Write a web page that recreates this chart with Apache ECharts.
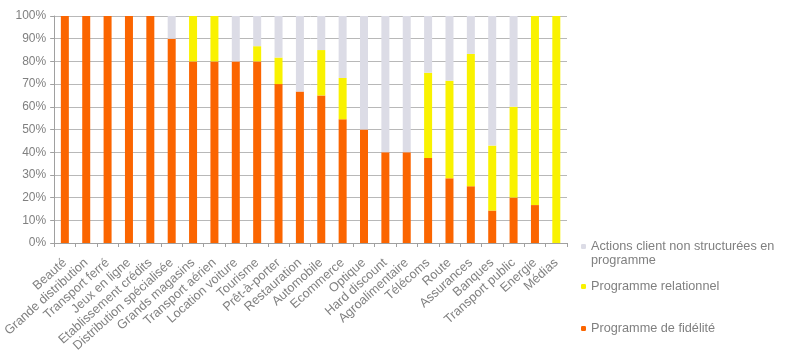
<!DOCTYPE html>
<html><head><meta charset="utf-8">
<script src="https://cdn.jsdelivr.net/npm/echarts@6/dist/echarts.min.js"></script>
<style>html,body{margin:0;padding:0;background:#fff}#c{width:800px;height:364px}</style>
</head><body><div id="c"></div>
<script>
const categories = ["Beauté","Grande distribution","Transport ferré","Jeux en ligne","Etablissement crédits","Distribution spécialisée","Grands magasins","Transport aérien","Location voiture","Tourisme","Prêt-à-porter","Restauration","Automobile","Ecommerce","Optique","Hard discount","Agroalimentaire","Télécoms","Route","Assurances","Banques","Transport public","Energie","Médias"];
const fidelite = [100,100,100,100,100,90,80,80,80,80,70,66.7,65,54.5,50,40,40,37.5,28.5,25,14.3,20,16.7,0];
const relationnel = [0,0,0,0,0,0,20,20,0,6.7,11.7,0,20,18.2,0,0,0,37.5,43,58.3,28.6,40,83.3,100];
const nonStructure = [0,0,0,0,0,10,0,0,20,13.3,18.3,33.3,15,27.3,50,60,60,25,28.5,16.7,57.1,40,0,0];
const yTicks = ["0%","10%","20%","30%","40%","50%","60%","70%","80%","90%","100%"];
const names = ["Programme de fidélité","Programme relationnel","Actions client non structurées en"];
const legendSecondLine = "programme";
const colors = ["#fb6500","#f9f200","#dcdce6"];

const chart = echarts.init(document.getElementById('c'));
const font = 'Liberation Sans, Arial, sans-serif';
const txt = {color:'#808080', fontFamily:font, fontSize:12};
const ltxt = {color:'#808080', fontFamily:font, fontSize:12.7};
chart.setOption({
  animation:false,
  backgroundColor:'#fff',
  grid:{left:53, right:233, top:16, bottom:121, containLabel:false},
  legend:[
    {orient:'vertical', left:581, top:240, itemWidth:5, itemHeight:5, itemGap:0, padding:0, data:[names[2]], textStyle:ltxt},
    {orient:'vertical', left:581, top:280, itemWidth:5, itemHeight:5, padding:0, data:[names[1]], textStyle:ltxt},
    {orient:'vertical', left:581, top:322, itemWidth:5, itemHeight:5, padding:0, data:[names[0]], textStyle:ltxt}
  ],
  graphic:[{type:'text', left:591, top:254, style:{text:legendSecondLine, fill:'#808080', font:'12.7px ' + font}}],
  xAxis:{type:'category', data:categories,
    axisLine:{lineStyle:{color:'#a0a0a0'}},
    axisTick:{show:true, alignWithLabel:false, length:4, lineStyle:{color:'#a0a0a0'}},
    axisLabel:Object.assign({}, txt, {fontSize:12.7, rotate:42, interval:0, margin:18})},
  yAxis:{type:'value', min:0, max:100, interval:10,
    axisLine:{show:true, lineStyle:{color:'#a0a0a0'}},
    axisTick:{show:true, length:4, lineStyle:{color:'#a0a0a0'}},
    splitLine:{lineStyle:{color:'#b8b8b8'}},
    axisLabel:Object.assign({}, txt, {formatter:(v)=> yTicks[Math.round(v/10)], margin:8})},
  series:[
    {name:names[0], type:'bar', stack:'s', data:fidelite, barWidth:8, itemStyle:{color:colors[0]}},
    {name:names[1], type:'bar', stack:'s', data:relationnel, barWidth:8, itemStyle:{color:colors[1]}},
    {name:names[2], type:'bar', stack:'s', data:nonStructure, barWidth:8, itemStyle:{color:colors[2]}}
  ]
});
</script></body></html>
